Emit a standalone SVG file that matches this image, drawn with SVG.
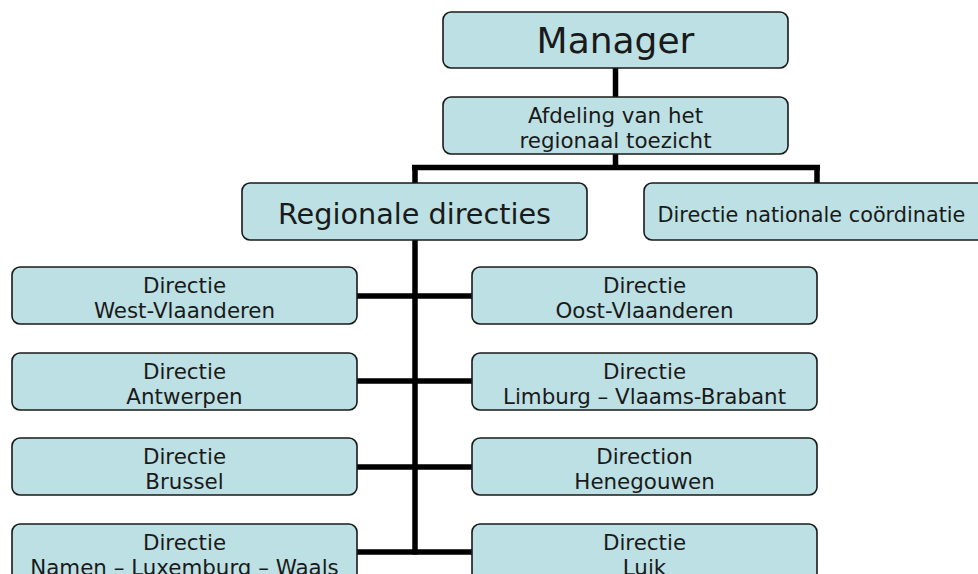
<svg xmlns="http://www.w3.org/2000/svg" width="978" height="574" viewBox="0 0 978 574">
<style>
.box{fill:#bce0e3;stroke:#1a1a1a;stroke-width:1.6}
.t{font-family:"DejaVu Sans",Verdana,sans-serif;font-size:21.4px;fill:#1a1a1a;text-anchor:middle}
.big{font-size:36px}
.mid{font-size:28.7px}
.sm{font-size:20.8px}
.con{stroke:#000;stroke-width:5.5;fill:none;stroke-linecap:butt}
</style>
<defs>
<clipPath id="c-afd"><rect x="443" y="97" width="345" height="57"/></clipPath>
<clipPath id="c-l1"><rect x="472" y="353" width="345" height="57"/></clipPath>
<clipPath id="c-r3"><rect x="472" y="438" width="345" height="57"/></clipPath>
<clipPath id="c-l4"><rect x="12" y="524" width="345" height="57"/></clipPath>
<clipPath id="c-r4"><rect x="472" y="524" width="345" height="57"/></clipPath>
</defs>
<rect width="978" height="574" fill="#fff"/>
<g id="connectors">
<path class="con" d="M615.5 68V97M615.5 154V167.5M412 167.5H820M415 167.5V183M817 167.5V183"/>
<path class="con" d="M415 240V554.5"/>
<path class="con" d="M357 296H472M357 381H472M357 467H472M357 552H472"/>
</g>
<g id="manager">
<rect class="box" x="443" y="12" width="345" height="56" rx="8"/>
<text class="t big" x="615.5" y="53">Manager</text>
</g>
<g id="afdeling">
<rect class="box" x="443" y="97" width="345" height="57" rx="8"/>
<g clip-path="url(#c-afd)">
<text class="t" x="615.5" y="123">Afdeling van het</text>
<text class="t" x="615.5" y="148">regionaal toezicht</text>
</g>
</g>
<g id="regionale">
<rect class="box" x="242" y="183" width="345" height="57" rx="8"/>
<text class="t mid" x="414.5" y="224">Regionale directies</text>
</g>
<g id="nationale">
<rect class="box" x="644" y="183" width="345" height="57" rx="8"/>
<text class="t sm" x="811.5" y="222">Directie nationale coördinatie</text>
</g>
<g id="west-vlaanderen">
<rect class="box" x="12" y="267" width="345" height="57" rx="8"/>
<text class="t" x="184.5" y="293">Directie</text>
<text class="t" x="184.5" y="318">West-Vlaanderen</text>
</g>
<g id="oost-vlaanderen">
<rect class="box" x="472" y="267" width="345" height="57" rx="8"/>
<text class="t" x="644.5" y="293">Directie</text>
<text class="t" x="644.5" y="318">Oost-Vlaanderen</text>
</g>
<g id="antwerpen">
<rect class="box" x="12" y="353" width="345" height="57" rx="8"/>
<text class="t" x="184.5" y="379">Directie</text>
<text class="t" x="184.5" y="404">Antwerpen</text>
</g>
<g id="limburg">
<rect class="box" x="472" y="353" width="345" height="57" rx="8"/>
<g clip-path="url(#c-l1)">
<text class="t" x="644.5" y="379">Directie</text>
<text class="t" x="644.5" y="404">Limburg – Vlaams-Brabant</text>
</g>
</g>
<g id="brussel">
<rect class="box" x="12" y="438" width="345" height="57" rx="8"/>
<text class="t" x="184.5" y="464">Directie</text>
<text class="t" x="184.5" y="489">Brussel</text>
</g>
<g id="henegouwen">
<rect class="box" x="472" y="438" width="345" height="57" rx="8"/>
<g clip-path="url(#c-r3)">
<text class="t" x="644.5" y="464">Direction</text>
<text class="t" x="644.5" y="489">Henegouwen</text>
</g>
</g>
<g id="namen">
<rect class="box" x="12" y="524" width="345" height="57" rx="8"/>
<g clip-path="url(#c-l4)">
<text class="t" x="184.5" y="550">Directie</text>
<text class="t" x="184.5" y="575">Namen – Luxemburg – Waals</text>
</g>
</g>
<g id="luik">
<rect class="box" x="472" y="524" width="345" height="57" rx="8"/>
<g clip-path="url(#c-r4)">
<text class="t" x="644.5" y="550">Directie</text>
<text class="t" x="644.5" y="575">Luik</text>
</g>
</g>
</svg>
